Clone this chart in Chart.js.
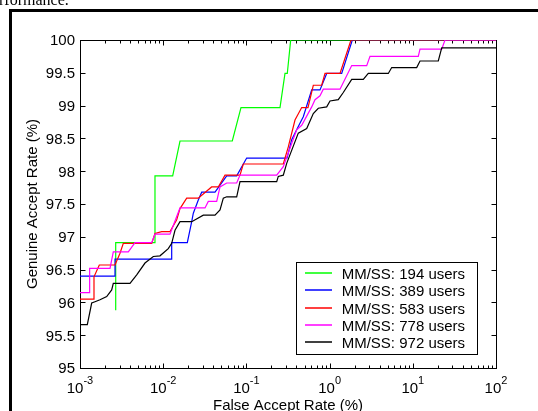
<!DOCTYPE html>
<html><head><meta charset="utf-8">
<script src="https://cdn.jsdelivr.net/npm/chart.js@4"></script>
<style>html,body{margin:0;padding:0;background:#fff;overflow:hidden}canvas{display:block}</style>
</head><body>
<canvas id="c" width="538" height="411"></canvas>
<script>
const seriesLabels = ['MM/SS: 194 users','MM/SS: 389 users','MM/SS: 583 users','MM/SS: 778 users','MM/SS: 972 users'];
const seriesColors = ['#00ff00','#0000ff','#ff0000','#ff00ff','#000000'];

const far194 = [0.002686,0.002686,0.007966,0.007966,0.01300,0.01592,0.06768,0.0861,0.2534,0.2910,0.3101,0.3407,100];
const gar194 = [95.88,96.91,96.91,97.93,97.93,98.46,98.46,98.97,98.97,99.49,99.49,100,100];

const far389 = [0.001,0.002635,0.002635,0.01265,0.01265,0.01949,0.02201,0.02301,0.02642,0.02902,0.04194,0.05797,0.07644,0.1008,0.3076,0.3503,0.4204,0.4829,0.6094,0.7666,0.9228,1.398,1.875,100];
const gar389 = [96.40,96.40,96.66,96.66,96.91,96.91,97.23,97.36,97.56,97.68,97.68,97.93,97.93,98.20,98.20,98.48,98.68,98.83,99.24,99.24,99.49,99.49,100,100];

const far583 = [0.001,0.001445,0.001473,0.001706,0.002635,0.003026,0.003315,0.007275,0.007966,0.009594,0.01207,0.01453,0.01592,0.01916,0.02642,0.03817,0.04595,0.05532,0.08376,0.09177,0.2777,0.3188,0.3838,0.4619,0.5500,0.6369,0.8035,0.8806,1.334,1.808,100];
const gar583 = [96.05,96.05,96.39,96.57,96.57,96.75,96.90,96.90,97.05,97.08,97.08,97.26,97.43,97.59,97.59,97.76,97.76,97.94,97.94,98.11,98.11,98.37,98.78,98.97,98.97,99.31,99.31,99.49,99.49,100,100];

const far778 = [0.001,0.001294,0.001294,0.001318,0.002295,0.002404,0.002513,0.003806,0.004583,0.007275,0.007966,0.01207,0.01453,0.01592,0.03180,0.03484,0.04395,0.04817,0.05797,0.07644,0.08376,0.2313,0.2777,0.4022,0.4619,0.6094,0.6677,0.7666,0.8400,1.334,1.844,2.792,3.059,11.64,12.21,22.26,24.38,100];
const gar778 = [96.15,96.15,96.38,96.52,96.52,96.65,96.77,96.77,96.91,96.91,97.04,97.04,97.31,97.44,97.44,97.54,97.54,97.76,97.82,97.82,97.94,97.94,98.07,98.63,98.70,98.98,99.09,99.15,99.25,99.25,99.61,99.61,99.75,99.75,99.86,99.86,100,100];

const far972 = [0.001,0.001224,0.001382,0.001514,0.001739,0.002094,0.002404,0.002513,0.003990,0.004803,0.006042,0.007603,0.009152,0.01151,0.01265,0.01386,0.01592,0.02201,0.03034,0.04194,0.04817,0.05278,0.05797,0.07644,0.08376,0.2313,0.2417,0.2777,0.3050,0.4204,0.5307,0.6369,0.7314,0.9228,1.011,1.272,1.461,1.844,2.541,2.918,5.077,5.578,11.14,12.21,20.25,22.26,100];
const gar972 = [95.66,95.66,95.99,96.01,96.04,96.09,96.19,96.29,96.29,96.42,96.60,96.70,96.71,96.82,96.90,97.10,97.23,97.23,97.33,97.33,97.41,97.59,97.61,97.61,97.84,97.84,97.92,97.94,98.12,98.58,98.65,98.88,98.96,98.98,99.07,99.09,99.20,99.40,99.40,99.49,99.49,99.58,99.58,99.68,99.68,99.88,99.88];

const yTicks = [95,95.5,96,96.5,97,97.5,98,98.5,99,99.5,100];
const yTickLabels = ['95','95.5','96','96.5','97','97.5','98','98.5','99','99.5','100'];
const xTicks = [0.001,0.01,0.1,1,10,100];
const xTickBase = '10';
const xTickExp = ['-3','-2','-1','0','1','2'];
const xTitle = 'False Accept Rate (%)';
const yTitle = 'Genuine Accept Rate (%)';
const headerText = 'rformance.';

const fars = [far194,far389,far583,far778,far972];
const gars = [gar194,gar389,gar583,gar778,gar972];

const datasets = seriesLabels.map((lab,i)=>({
  label: lab,
  data: fars[i].map((x,j)=>({x:x,y:gars[i][j]})),
  borderColor: seriesColors[i],
  backgroundColor: seriesColors[i],
  borderWidth: 1.2,
  pointRadius: 0,
  tension: 0,
  fill: false,
  order: 5-i
}));

const SANS = '"Liberation Sans", Arial, sans-serif';

const decor = {
  id: 'decor',
  beforeDatasetsDraw(chart){
    const {ctx, chartArea:a, scales} = chart;
    const x = scales.x, y = scales.y;
    ctx.save();
    ctx.fillStyle = '#000';
    // outer figure frame
    ctx.fillRect(9,9,529,3);
    ctx.fillRect(9,9,3,402);
    ctx.font = '16px "Liberation Serif", serif';
    ctx.textAlign = 'left'; ctx.textBaseline = 'alphabetic';
    ctx.fillText(headerText, -1, 5);

    const L = Math.round(a.left)+0.5, R = Math.round(a.right)+0.5, T = Math.round(a.top)+0.5, B = Math.round(a.bottom)+0.5;
    ctx.strokeStyle = '#000'; ctx.lineWidth = 1;
    ctx.strokeRect(L,T,R-L,B-T);
    ctx.beginPath();
    yTicks.forEach(v=>{
      const py = Math.round(y.getPixelForValue(v))+0.5;
      ctx.moveTo(L,py); ctx.lineTo(L+5,py);
      ctx.moveTo(R,py); ctx.lineTo(R-5,py);
    });
    xTicks.forEach((v,k)=>{
      for (let m=1;m<=9;m++){
        if (m>1 && k===xTicks.length-1) break;
        const px = Math.round(x.getPixelForValue(v*m))+0.5;
        const len = m===1?5:3;
        ctx.moveTo(px,B); ctx.lineTo(px,B-len);
        ctx.moveTo(px,T); ctx.lineTo(px,T+len);
      }
    });
    ctx.stroke();

    // y tick labels
    ctx.font = '15px ' + SANS;
    ctx.textAlign = 'right';
    yTicks.forEach((v,i)=>{
      const py = y.getPixelForValue(v);
      ctx.fillText(yTickLabels[i], 75, py+5.4);
    });
    // x tick labels
    xTicks.forEach((v,i)=>{
      const px = x.getPixelForValue(v);
      ctx.font = '15px ' + SANS;
      const wb = ctx.measureText(xTickBase).width;
      ctx.font = '11px ' + SANS;
      const we = ctx.measureText(xTickExp[i]).width;
      const start = px - (wb+we)/2;
      ctx.textAlign = 'left';
      ctx.font = '15px ' + SANS;
      ctx.fillText(xTickBase, start, 393);
      ctx.font = '11px ' + SANS;
      ctx.fillText(xTickExp[i], start+wb, 384);
    });
    // titles
    ctx.font = '15px ' + SANS;
    ctx.textAlign = 'center';
    ctx.fillText(xTitle, (a.left+a.right)/2, 410);
    ctx.save();
    ctx.translate(36.5, (a.top+a.bottom)/2);
    ctx.rotate(-Math.PI/2);
    ctx.fillText(yTitle, 0, 0);
    ctx.restore();
    ctx.restore();
  },
  afterDraw(chart){
    const ctx = chart.ctx;
    ctx.save();
    const bx = 296.5, by = 262.5, bw = 181, bh = 92;
    ctx.fillStyle = '#fff';
    ctx.fillRect(bx,by,bw,bh);
    ctx.strokeStyle = '#000'; ctx.lineWidth = 1;
    ctx.strokeRect(bx,by,bw,bh);
    ctx.font = '15px ' + SANS;
    ctx.textAlign = 'left'; ctx.textBaseline = 'alphabetic';
    chart.data.datasets.forEach((ds,i)=>{
      const ry = Math.round(272.7 + i*17.4);
      ctx.strokeStyle = ds.borderColor;
      ctx.lineWidth = 1.5;
      ctx.beginPath(); ctx.moveTo(305,ry); ctx.lineTo(332,ry); ctx.stroke();
      ctx.fillStyle = '#000';
      ctx.fillText(ds.label, 341.7, ry+5.5);
    });
    ctx.restore();
  }
};

new Chart(document.getElementById('c'), {
  type: 'line',
  data: { datasets: datasets },
  options: {
    responsive: false,
    animation: false,
    devicePixelRatio: 1,
    layout: { padding: { left: 80, right: 42, top: 40, bottom: 43 } },
    plugins: { legend: { display: false }, tooltip: { enabled: false } },
    scales: {
      x: { type: 'logarithmic', min: 0.001, max: 100, display: false },
      y: { type: 'linear', min: 95, max: 100, display: false }
    }
  },
  plugins: [decor]
});
</script>
</body></html>
